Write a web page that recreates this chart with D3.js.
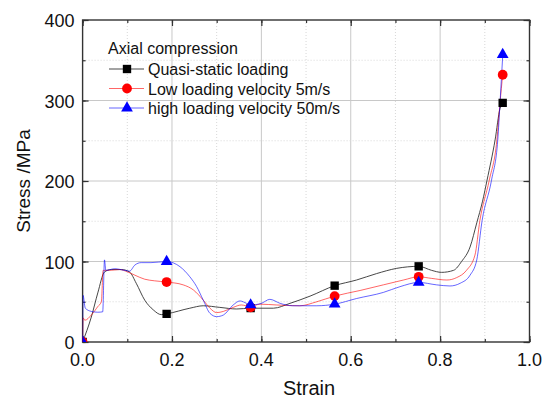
<!DOCTYPE html>
<html>
<head>
<meta charset="utf-8">
<script src="https://cdn.jsdelivr.net/npm/d3@7/dist/d3.min.js"></script>
<style>
  body { margin: 0; background: #fff; }
  svg { font-family: "Liberation Sans", Arial, sans-serif; }
</style>
</head>
<body>
<svg id="chart" width="544" height="402"></svg>
<script>
// values
const quasiStrain = [0, 0.0195, 0.034, 0.049, 0.064, 0.087, 0.105, 0.12, 0.139, 0.158, 0.176, 0.188, 0.24, 0.27, 0.307, 0.345, 0.376, 0.427, 0.464, 0.509, 0.564, 0.613, 0.658, 0.703, 0.752, 0.781, 0.803, 0.83, 0.848, 0.867, 0.882, 0.895, 0.905, 0.923, 0.934, 0.94];
const quasiStress = [0, 31, 61, 87, 90, 90, 87, 73, 52, 40, 34, 35, 42, 45, 43, 41, 42, 42, 48, 57, 70, 77, 85, 91.5, 94, 89, 86.5, 89, 100, 118, 148, 175, 201, 251, 290, 297];

const lowStrain = [0, 0.001, 0.005, 0.0195, 0.034, 0.042, 0.046, 0.06, 0.083, 0.101, 0.117, 0.139, 0.161, 0.188, 0.225, 0.248, 0.27, 0.285, 0.30, 0.315, 0.337, 0.355, 0.376, 0.397, 0.434, 0.486, 0.524, 0.564, 0.621, 0.673, 0.718, 0.752, 0.781, 0.815, 0.837, 0.859, 0.878, 0.889, 0.91, 0.927, 0.934, 0.94];
const lowStress = [0, 30, 27, 33.5, 44, 50, 89, 89, 90, 87, 83, 78, 76, 74.5, 71, 64.6, 52, 42, 36.5, 38, 43, 46, 44, 47, 46, 45, 50, 57, 64, 71, 77, 81, 79, 77, 80, 89, 108, 151, 201, 251, 297, 332];

const highStrain = [0, 0.001, 0.006, 0.0195, 0.034, 0.045, 0.049, 0.052, 0.072, 0.094, 0.105, 0.117, 0.131, 0.153, 0.188, 0.218, 0.24, 0.255, 0.27, 0.285, 0.30, 0.315, 0.337, 0.352, 0.367, 0.376, 0.40, 0.419, 0.442, 0.47, 0.524, 0.564, 0.613, 0.673, 0.71, 0.752, 0.792, 0.822, 0.845, 0.867, 0.882, 0.894, 0.915, 0.929, 0.934, 0.94];
const highStress = [0, 58, 42, 38, 37, 37.5, 102, 89, 91, 89, 88, 95.6, 98.6, 98.6, 100, 93.5, 81, 69, 52, 35.6, 31.5, 33.5, 46, 51, 48, 46, 48, 53, 48, 45, 45, 47, 54, 61.6, 68.7, 74, 71, 69.6, 73, 83, 102, 151, 201, 251, 297, 355];

const markerStrain = [0, 0.188, 0.376, 0.564, 0.752, 0.94];
const quasiMarkers = [0, 35, 42, 70, 94, 297];
const lowMarkers = [0, 74.5, 43, 57, 81, 332];
const highMarkers = [0, 100, 46, 47, 74, 357];

const seriesNames = ["Quasi-static loading", "Low loading velocity 5m/s", "high loading velocity 50m/s"];
const legendTitle = "Axial compression";
const xTicks = [0, 0.2, 0.4, 0.6, 0.8, 1.0];
const yTicks = [0, 100, 200, 300, 400];

const plotL = 82.6, plotR = 529.5, plotT = 20, plotB = 342;
const svg = d3.select("#chart");

const x = d3.scaleLinear().domain([0, 1]).range([plotL, plotR]);
const y = d3.scaleLinear().domain([0, 400]).range([plotB, plotT]);

// grid
const grid = svg.append("g");
d3.range(1, 10).forEach(k => {
  const v = k / 10, major = k % 2 === 0;
  grid.append("line")
    .attr("x1", x(v)).attr("x2", x(v)).attr("y1", plotT).attr("y2", plotB)
    .attr("stroke", major ? "#c8c8c8" : "#d8d8d8")
    .attr("stroke-dasharray", major ? null : "1,2");
});
d3.range(50, 400, 50).forEach(v => {
  const major = v % 100 === 0;
  grid.append("line")
    .attr("x1", plotL).attr("x2", plotR).attr("y1", y(v)).attr("y2", y(v))
    .attr("stroke", major ? "#c8c8c8" : "#d8d8d8")
    .attr("stroke-dasharray", major ? null : "1,2");
});

// axes, ticks inward
const minorX = d3.range(0, 11).map(k => k / 10);
const minorY = d3.range(0, 401, 50);
const fmtX = d3.format(".1f");

svg.append("g").attr("transform", `translate(0,${plotB})`)
  .call(d3.axisTop(x).tickValues(minorX).tickSize(3).tickFormat(""));
svg.append("g").attr("transform", `translate(0,${plotB})`)
  .call(d3.axisTop(x).tickValues(xTicks).tickSize(6).tickFormat(""));
svg.append("g").attr("transform", `translate(0,${plotT})`)
  .call(d3.axisBottom(x).tickValues(minorX).tickSize(3).tickFormat(""));
svg.append("g").attr("transform", `translate(0,${plotT})`)
  .call(d3.axisBottom(x).tickValues(xTicks).tickSize(6).tickFormat(""));
svg.append("g").attr("transform", `translate(${plotL},0)`)
  .call(d3.axisRight(y).tickValues(minorY).tickSize(3).tickFormat(""));
svg.append("g").attr("transform", `translate(${plotL},0)`)
  .call(d3.axisRight(y).tickValues(yTicks).tickSize(6).tickFormat(""));
svg.append("g").attr("transform", `translate(${plotR},0)`)
  .call(d3.axisLeft(y).tickValues(minorY).tickSize(3).tickFormat(""));
svg.append("g").attr("transform", `translate(${plotR},0)`)
  .call(d3.axisLeft(y).tickValues(yTicks).tickSize(6).tickFormat(""));
svg.selectAll(".domain").remove();
svg.selectAll(".tick line").attr("stroke", "#333").attr("stroke-width", 1.2);

svg.append("rect")
  .attr("x", plotL).attr("y", plotT).attr("width", plotR - plotL).attr("height", plotB - plotT)
  .attr("fill", "none").attr("stroke", "#333").attr("stroke-width", 1.4);

// tick labels
svg.append("g").selectAll("text").data(xTicks).join("text")
  .attr("x", d => x(d)).attr("y", plotB + 24)
  .attr("text-anchor", "middle").attr("font-size", 18).attr("fill", "#111")
  .text(d => fmtX(d));
svg.append("g").selectAll("text").data(yTicks).join("text")
  .attr("x", plotL - 8).attr("y", d => y(d) + 7)
  .attr("text-anchor", "end").attr("font-size", 18).attr("fill", "#111")
  .text(d => d);

svg.append("text").attr("x", 309).attr("y", 395)
  .attr("text-anchor", "middle").attr("font-size", 20).attr("fill", "#111").text("Strain");
svg.append("text")
  .attr("transform", `translate(30,${(plotT + plotB) / 2}) rotate(-90)`)
  .attr("text-anchor", "middle").attr("font-size", 19).attr("fill", "#111").text("Stress /MPa");

// curves
svg.append("clipPath").attr("id", "plotclip").append("rect")
  .attr("x", plotL).attr("y", plotT).attr("width", plotR - plotL).attr("height", plotB - plotT);

const series = [
  { xs: quasiStrain, ys: quasiStress, marks: quasiMarkers, color: "#333333", shape: d3.symbolSquare, size: 70 },
  { xs: lowStrain, ys: lowStress, marks: lowMarkers, color: "#ff0000", shape: d3.symbolCircle, size: 75 },
  { xs: highStrain, ys: highStress, marks: highMarkers, color: "#0000ff", shape: d3.symbolTriangle, size: 60 }
];
const fills = ["#000000", "#ff0000", "#0000ff"];

const line = d3.line().x(d => x(d[0])).y(d => y(d[1])).curve(d3.curveMonotoneX);
const plot = svg.append("g").attr("clip-path", "url(#plotclip)");

series.forEach((s, i) => {
  plot.append("path")
    .datum(d3.zip(s.xs, s.ys))
    .attr("d", line)
    .attr("fill", "none").attr("stroke", s.color)
    .attr("stroke-opacity", i === 0 ? 0.9 : 0.6).attr("stroke-width", 1);
});
series.forEach((s, i) => {
  plot.append("g").selectAll("path").data(d3.zip(markerStrain, s.marks)).join("path")
    .attr("transform", d => `translate(${x(d[0])},${y(d[1])})`)
    .attr("d", d3.symbol(s.shape, s.size))
    .attr("fill", fills[i]);
});

// legend
const lg = svg.append("g");
lg.append("text").attr("x", 108).attr("y", 54).attr("font-size", 16).attr("fill", "#111").text(legendTitle);
series.forEach((s, i) => {
  const ry = 69 + i * 19.5;
  lg.append("line").attr("x1", 109).attr("x2", 144).attr("y1", ry).attr("y2", ry)
    .attr("stroke", s.color).attr("stroke-opacity", i === 0 ? 0.9 : 0.6);
  lg.append("path").attr("transform", `translate(127,${ry})`)
    .attr("d", d3.symbol(s.shape, s.size)).attr("fill", fills[i]);
  lg.append("text").attr("x", 148).attr("y", ry + 6).attr("font-size", 16).attr("fill", "#111").text(seriesNames[i]);
});
</script>
</body>
</html>
